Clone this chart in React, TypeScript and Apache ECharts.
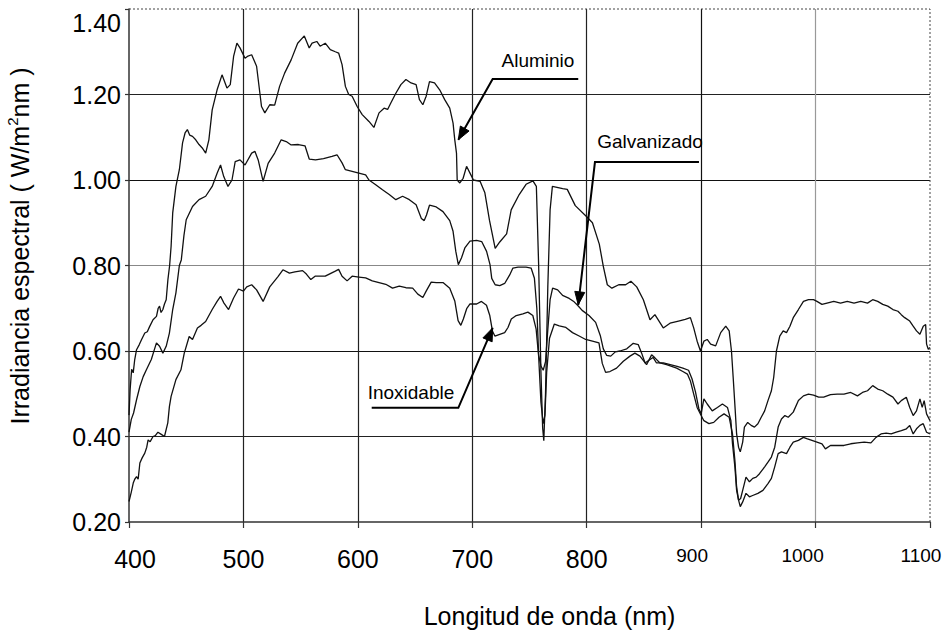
import React, { useEffect, useRef } from "react";
import * as echarts from "echarts";

const X_MIN = 400;
const X_MAX = 1100;
const X_STEP = 100;
const Y_MIN = 0.2;
const Y_MAX = 1.4;
const Y_STEP = 0.2;

const X_TITLE = "Longitud de onda (nm)";
const Y_TITLE_PARTS = ["Irradiancia espectral ( W/m", "2", "nm )"];

// [wavelength nm, irradiance W/m2nm]
const ALUMINIO: [number, number][] = [
  [400, 0.45], [401, 0.51], [402.3, 0.557], [403.7, 0.549], [405, 0.58], [406.6, 0.603], [409, 0.615],
  [411, 0.627], [413.8, 0.642], [416, 0.645], [418, 0.657], [421, 0.673], [424, 0.681], [425.5, 0.7],
  [426.7, 0.705], [428, 0.69], [429.6, 0.697], [431, 0.71], [432.5, 0.72], [434, 0.767], [435.5, 0.8],
  [436.8, 0.845], [438.2, 0.923], [441, 0.985], [444, 1.024], [446.8, 1.087], [449, 1.11], [451, 1.118],
  [453, 1.105], [455.5, 1.102], [458.3, 1.094], [461.2, 1.083], [464, 1.075], [467, 1.063], [469.8, 1.094],
  [472.7, 1.164], [477, 1.211], [481.3, 1.246], [485.6, 1.215], [488.5, 1.223], [491.4, 1.289], [494.3, 1.32],
  [497, 1.309], [501.4, 1.285], [504, 1.29], [507.2, 1.293], [511.5, 1.266], [515.8, 1.172], [518.7, 1.157],
  [523, 1.176], [527.3, 1.175], [531.6, 1.219], [536, 1.25], [541.7, 1.281], [547.4, 1.32], [553.2, 1.337],
  [557.5, 1.309], [560, 1.32], [564.1, 1.324], [567, 1.313], [571.5, 1.32], [575.9, 1.305], [580.3, 1.3],
  [583.2, 1.297], [586.2, 1.27], [589.1, 1.219], [592, 1.2], [595, 1.196], [599.4, 1.172], [603.8, 1.153],
  [609.7, 1.137], [614, 1.123], [618.5, 1.157], [622.9, 1.168], [626, 1.165], [628.8, 1.18], [633.2, 1.203],
  [637.6, 1.223], [642, 1.235], [646.5, 1.227], [650.9, 1.223], [653.8, 1.188], [656.8, 1.176], [659.7, 1.196],
  [662.6, 1.23], [667, 1.227], [671.5, 1.211], [675.9, 1.188], [680.3, 1.168], [683.2, 1.133], [684.7, 1.094],
  [686.2, 1.063], [686.8, 1.0], [689.1, 0.993], [692, 1.004], [695, 1.032], [698, 1.016], [701, 1.0],
  [706.8, 0.997], [711, 0.97], [715, 0.906], [720, 0.84], [724, 0.855], [730, 0.874], [734, 0.93],
  [741, 0.966], [747, 0.99], [753, 0.998], [756, 0.985], [758, 0.8], [760, 0.55], [761.5, 0.42],
  [762.5, 0.39], [764, 0.5], [766, 0.75], [768, 0.93], [770, 0.985], [779, 0.98], [783, 0.978],
  [790, 0.94], [800, 0.914], [805, 0.9], [811, 0.85], [814.5, 0.798], [818, 0.755], [822, 0.747],
  [828, 0.755], [834, 0.755], [838.6, 0.763], [843.7, 0.75], [849.5, 0.72], [855.3, 0.673], [859.6, 0.685],
  [866.9, 0.654], [872.8, 0.665], [880.2, 0.67], [886.1, 0.674], [890.6, 0.678], [893.5, 0.654], [896.5, 0.623],
  [899.4, 0.6], [902.4, 0.623], [905.3, 0.627], [908.3, 0.616], [912.7, 0.612], [917.1, 0.643], [921.5, 0.658],
  [924.5, 0.647], [926.5, 0.6], [928, 0.538], [929.8, 0.46], [931, 0.406], [932.7, 0.375], [934.2, 0.364],
  [936.3, 0.387], [937.8, 0.422], [940.7, 0.433], [943.7, 0.426], [946.6, 0.422], [949.6, 0.43], [952.5, 0.445],
  [955.5, 0.46], [958.4, 0.484], [961.4, 0.507], [963.4, 0.538], [965.8, 0.6], [968.7, 0.635], [971.7, 0.647],
  [974.6, 0.643], [977.6, 0.658], [980.5, 0.678], [985, 0.697], [989.4, 0.716], [993.8, 0.72], [998.2, 0.72],
  [1001.2, 0.716], [1005.6, 0.709], [1010, 0.712], [1015.9, 0.716], [1021.8, 0.712], [1027.7, 0.716],
  [1033.6, 0.712], [1039.5, 0.716], [1045.4, 0.712], [1049.9, 0.72], [1054.3, 0.716], [1058.7, 0.709],
  [1063.1, 0.705], [1067.6, 0.697], [1072, 0.693], [1074.9, 0.685], [1077.9, 0.678], [1082.3, 0.67],
  [1085.3, 0.658], [1088.2, 0.647], [1091.2, 0.639], [1094.1, 0.658], [1096.2, 0.662], [1097, 0.616],
  [1098.5, 0.604], [1100, 0.608],
];

const GALVANIZADO: [number, number][] = [
  [400, 0.41], [402, 0.44], [404, 0.455], [406.6, 0.486], [409.5, 0.517], [412.4, 0.54], [415.2, 0.556],
  [419.5, 0.58], [424, 0.619], [426.7, 0.611], [429.6, 0.595], [432.5, 0.611], [435.3, 0.642], [438.2, 0.697],
  [441, 0.736], [444, 0.8], [445.7, 0.813], [448, 0.87], [450, 0.907], [455.5, 0.938], [461.2, 0.954],
  [467, 0.962], [472.7, 0.985], [477, 1.016], [480, 1.035], [482.8, 1.008], [486.5, 0.985], [490, 1.0],
  [492.8, 1.043], [497, 1.047], [501.4, 1.035], [507.2, 1.063], [510, 1.067], [512.9, 1.047], [517.2, 0.997],
  [521.6, 1.039], [527.3, 1.063], [533, 1.094], [537.4, 1.09], [541.7, 1.082], [548, 1.083], [553.8, 1.08],
  [557.5, 1.049], [563, 1.047], [570, 1.05], [577.4, 1.055], [581.8, 1.059], [586.2, 1.04], [589.1, 1.024],
  [595, 1.02], [600.9, 1.016], [606.8, 1.012], [609.7, 1.0], [615.6, 0.989], [621.5, 0.977], [627.4, 0.966],
  [633.2, 0.954], [639.1, 0.962], [645, 0.954], [650.9, 0.942], [655.5, 0.91], [658, 0.905], [660, 0.918],
  [662.6, 0.941], [668.5, 0.937], [674.4, 0.926], [680.3, 0.905], [683.2, 0.88], [685.6, 0.833], [687.8, 0.802],
  [690.6, 0.818], [693.5, 0.841], [698, 0.857], [703.8, 0.859], [708.2, 0.856], [712.5, 0.833], [715.5, 0.802],
  [717, 0.77], [720, 0.755], [724, 0.753], [728.3, 0.758], [732.7, 0.778], [735.5, 0.794], [740, 0.796],
  [747, 0.796], [751.4, 0.794], [754.3, 0.77], [756.4, 0.7], [758, 0.59], [760, 0.565], [762, 0.555],
  [764, 0.575], [766, 0.65], [768, 0.72], [770.2, 0.747], [774.6, 0.743], [778.9, 0.73], [784.7, 0.723],
  [789, 0.715], [792, 0.707], [796, 0.695], [802, 0.683], [807.8, 0.667], [812, 0.635], [814.5, 0.605],
  [817.4, 0.59], [821, 0.588], [825, 0.598], [829, 0.6], [835, 0.605], [840.7, 0.618], [845, 0.615],
  [848, 0.595], [851, 0.572], [855.3, 0.58], [858, 0.585], [861, 0.572], [867, 0.572], [873, 0.568],
  [879, 0.564], [884, 0.56], [889, 0.555], [892, 0.535], [895, 0.505], [898, 0.465], [900, 0.453],
  [902.4, 0.488], [905.3, 0.476], [909.7, 0.46], [914.2, 0.468], [918.6, 0.476], [923, 0.468], [926, 0.437],
  [927.4, 0.383], [929.5, 0.329], [931, 0.274], [932.7, 0.251], [934.5, 0.255], [936.3, 0.274], [939.2, 0.305],
  [942.2, 0.294], [945.1, 0.302], [948.1, 0.305], [951, 0.313], [955.5, 0.329], [958.4, 0.34], [961.4, 0.352],
  [964.3, 0.375], [967.3, 0.422], [970.2, 0.441], [973.2, 0.449], [976.1, 0.445], [980.5, 0.457], [985, 0.484],
  [989.4, 0.495], [993.8, 0.499], [998.2, 0.497], [1002.7, 0.492], [1007.1, 0.492], [1013, 0.498],
  [1018.9, 0.499], [1024.8, 0.499], [1030.7, 0.503], [1036.6, 0.495], [1041, 0.503], [1045.4, 0.507],
  [1049.9, 0.519], [1054.3, 0.511], [1058.7, 0.507], [1063.1, 0.499], [1067.6, 0.492], [1072, 0.476],
  [1074.9, 0.484], [1079.3, 0.492], [1082.3, 0.468], [1085.3, 0.449], [1088.2, 0.46], [1091.2, 0.488],
  [1093.2, 0.468], [1094.9, 0.484], [1097, 0.453], [1100, 0.437],
];

const INOXIDABLE: [number, number][] = [
  [400, 0.248], [402, 0.27], [403.7, 0.291], [405, 0.3], [406.6, 0.306], [408, 0.3], [409.5, 0.338],
  [411.5, 0.35], [413.8, 0.361], [415.5, 0.375], [416.7, 0.392], [418.5, 0.388], [421, 0.4], [423, 0.402],
  [425.3, 0.41], [428.2, 0.405], [431, 0.4], [433.9, 0.432], [435.3, 0.47], [436.8, 0.494], [441, 0.533],
  [445.4, 0.556], [448.3, 0.595], [452.6, 0.634], [455.5, 0.627], [459.8, 0.654], [463, 0.66], [467, 0.669],
  [472.7, 0.697], [477, 0.716], [480, 0.728], [483, 0.712], [487, 0.697], [491.4, 0.724], [495.7, 0.745],
  [500, 0.74], [502.9, 0.75], [507.2, 0.755], [511.5, 0.743], [517.2, 0.716], [523, 0.75], [530.2, 0.774],
  [534.5, 0.79], [540.2, 0.782], [545, 0.785], [551.7, 0.788], [555, 0.78], [558.9, 0.767], [562.6, 0.775],
  [571.5, 0.775], [580.3, 0.787], [583.2, 0.791], [586.2, 0.775], [590.6, 0.764], [595, 0.775], [600.9, 0.773],
  [606.8, 0.771], [612.6, 0.764], [618.5, 0.76], [624.4, 0.756], [630.3, 0.747], [636.2, 0.752], [642, 0.748],
  [647.9, 0.747], [652.4, 0.733], [656.8, 0.725], [659.7, 0.74], [664.1, 0.761], [668.5, 0.76], [674.4, 0.76],
  [680.3, 0.747], [684.7, 0.717], [687.6, 0.671], [690, 0.66], [692.2, 0.675], [695.1, 0.699], [698, 0.71],
  [703.8, 0.71], [708, 0.716], [712.4, 0.707], [715.3, 0.683], [717.6, 0.647], [719.7, 0.635], [724, 0.639],
  [728.3, 0.643], [731.2, 0.655], [734.1, 0.675], [738.4, 0.683], [744.2, 0.687], [748.6, 0.691], [752.9, 0.683],
  [755.8, 0.651], [758, 0.587], [760, 0.48], [762, 0.43], [763.5, 0.45], [765, 0.55], [767.5, 0.63],
  [771.7, 0.663], [776, 0.659], [781.8, 0.655], [787.6, 0.643], [793.4, 0.635], [799.1, 0.627], [805, 0.623],
  [810.7, 0.619], [813.6, 0.571], [816.5, 0.55], [820.3, 0.552], [826.1, 0.56], [832, 0.576], [837.8, 0.588],
  [842.1, 0.595], [846.5, 0.588], [852.3, 0.568], [856.7, 0.591], [859.6, 0.584], [864, 0.572], [869.8, 0.568],
  [878.6, 0.56], [884, 0.552], [888, 0.546], [890.6, 0.53], [893.5, 0.499], [896.5, 0.468], [900, 0.449],
  [902.4, 0.437], [906.8, 0.43], [911, 0.433], [915.6, 0.445], [920, 0.453], [924.5, 0.445], [927.4, 0.406],
  [929.5, 0.344], [931, 0.282], [932.7, 0.251], [934.2, 0.236], [936.3, 0.247], [939.2, 0.267], [942.2, 0.259],
  [945, 0.262], [949.6, 0.267], [954, 0.274], [958.4, 0.29], [961.4, 0.302], [964.3, 0.329], [967.3, 0.36],
  [970.2, 0.364], [974.6, 0.36], [977.6, 0.375], [980.5, 0.387], [985, 0.391], [989.4, 0.398], [992.3, 0.395],
  [996.8, 0.391], [1001.2, 0.387], [1005.6, 0.383], [1008.6, 0.371], [1013, 0.379], [1018.9, 0.379],
  [1024.8, 0.379], [1030.7, 0.383], [1036.6, 0.385], [1042.5, 0.387], [1048.4, 0.385], [1052.8, 0.398],
  [1057.2, 0.406], [1061.7, 0.408], [1066.1, 0.406], [1070.5, 0.41], [1075, 0.414], [1079.4, 0.418],
  [1082.3, 0.426], [1085.3, 0.406], [1088.2, 0.418], [1091.2, 0.426], [1094.1, 0.43], [1097, 0.41], [1100, 0.406],
];

// Annotation labels with leader lines, all in data coordinates
const ANNOTATION_TEXTS = ["Aluminio", "Galvanizado", "Inoxidable"];
const ANNOTATION_LABEL_AT: [number, number][] = [[757.4, 1.279], [855.3, 1.089], [646.4, 0.502]];
const ANNOTATION_PATHS: [number, number][][] = [
  [[792.6, 1.236], [717.8, 1.236], [687.8, 1.094]],
  [[898.1, 1.042], [807.2, 1.042], [792.6, 0.708]],
  [[612.1, 0.467], [687.8, 0.467], [717.8, 0.654]],
];

const FONT = "Liberation Sans, Arial, sans-serif";

export default function App() {
  const ref = useRef<HTMLDivElement>(null);

  useEffect(() => {
    const chart = echarts.init(ref.current!, null, { renderer: "svg" });

    const mkSeries = (name: string, data: [number, number][]) => ({
      name,
      type: "line",
      data,
      showSymbol: false,
      symbol: "none",
      silent: true,
      lineStyle: { color: "#111", width: 1.3 },
      z: 3,
    });

    chart.setOption({
      animation: false,
      backgroundColor: "#fff",
      grid: { left: 129, right: 19, top: 9, bottom: 112, containLabel: false },
      xAxis: {
        type: "value",
        min: X_MIN,
        max: X_MAX,
        interval: X_STEP,
        axisLine: { show: true, onZero: false, lineStyle: { color: "#333", width: 1.5 } },
        axisTick: { show: true, length: 6, lineStyle: { color: "#333", width: 1.2 } },
        axisLabel: {
          margin: 24,
          color: "#000",
          fontFamily: FONT,
          fontSize: 25,
          formatter: (v: number) => {
            if (v === 400) return `{f|${v}}`;
            if (v === 1000) return `{c|${v}}`;
            if (v >= 900) return `{b|${v}}`;
            return `{a|${v}}`;
          },
          rich: {
            a: { fontSize: 25, fontFamily: FONT, color: "#000" },
            f: { fontSize: 25, fontFamily: FONT, color: "#000", padding: [0, 0, 0, 12] },
            b: { fontSize: 19, fontFamily: FONT, color: "#000", padding: [0, 18, 0, 0] },
            c: { fontSize: 19, fontFamily: FONT, color: "#000", padding: [0, 26, 0, 0] },
          },
        },
        splitLine: {
          show: true,
          lineStyle: {
            width: 1.2,
            color: ["rgba(0,0,0,0)", "#222", "#222", "#222", "#222", "#111", "#999", "rgba(0,0,0,0)"],
          },
        },
      },
      yAxis: {
        type: "value",
        min: Y_MIN,
        max: Y_MAX,
        interval: Y_STEP,
        axisLine: { show: true, onZero: false, lineStyle: { color: "#333", width: 1.5 } },
        axisTick: { show: true, length: 4, lineStyle: { color: "#333", width: 1.2 } },
        axisLabel: {
          margin: 8,
          color: "#000",
          fontFamily: FONT,
          fontSize: 25,
          formatter: (v: number) => (Math.abs(v - Y_MAX) < 1e-6 ? `{t|${v.toFixed(2)}}` : `{n|${v.toFixed(2)}}`),
          rich: {
            n: { fontSize: 25, fontFamily: FONT, color: "#000" },
            t: { fontSize: 25, fontFamily: FONT, color: "#000", padding: [28, 0, 0, 0] },
          },
        },
        splitLine: {
          show: true,
          lineStyle: {
            width: 1.2,
            color: ["rgba(0,0,0,0)", "#222", "#111", "#888", "#111", "#222", "rgba(0,0,0,0)"],
          },
        },
      },
      series: [
        mkSeries("Aluminio", ALUMINIO),
        mkSeries("Galvanizado", GALVANIZADO),
        mkSeries("Inoxidable", INOXIDABLE),
      ],
    });

    const P = (p: [number, number]) => chart.convertToPixel({ gridIndex: 0 }, p) as number[];
    const graphics: any[] = [];

    // dotted frame (top and right)
    const tl = P([X_MIN, Y_MAX]);
    const tr = P([X_MAX, Y_MAX]);
    const br = P([X_MAX, Y_MIN]);
    graphics.push({
      type: "polyline",
      shape: { points: [tl, tr, br] },
      style: { stroke: "#444", lineWidth: 1, lineDash: [2, 2], fill: null },
      z: 10,
    });

    ANNOTATION_PATHS.forEach((path, i) => {
      const pts = path.map(P);
      graphics.push({
        type: "polyline",
        shape: { points: pts },
        style: { stroke: "#000", lineWidth: 2, fill: null },
        z: 20,
      });
      const T = pts[pts.length - 1];
      const Q = pts[pts.length - 2];
      const dx = T[0] - Q[0];
      const dy = T[1] - Q[1];
      const len = Math.hypot(dx, dy);
      const ux = dx / len;
      const uy = dy / len;
      const bx = T[0] - ux * 13;
      const by = T[1] - uy * 13;
      const nx = -uy * 5;
      const ny = ux * 5;
      graphics.push({
        type: "polygon",
        shape: { points: [T, [bx + nx, by + ny], [bx - nx, by - ny]] },
        style: { fill: "#000", stroke: "#000", lineWidth: 1 },
        z: 21,
      });
      const lp = P(ANNOTATION_LABEL_AT[i]);
      graphics.push({
        type: "text",
        x: lp[0],
        y: lp[1],
        z: 22,
        style: {
          text: ANNOTATION_TEXTS[i],
          fontSize: 19,
          fontFamily: FONT,
          fill: "#000",
          align: "center",
          verticalAlign: "middle",
        },
      });
    });

    // axis titles
    const gx0 = P([X_MIN, Y_MIN]);
    const gx1 = P([X_MAX, Y_MIN]);
    graphics.push({
      type: "text",
      x: (gx0[0] + gx1[0]) / 2 + 20,
      y: gx0[1] + 94,
      style: {
        text: X_TITLE,
        fontSize: 25,
        fontFamily: FONT,
        fill: "#000",
        align: "center",
        verticalAlign: "middle",
      },
    });
    graphics.push({
      type: "text",
      x: 20,
      y: 246,
      rotation: Math.PI / 2,
      style: {
        text: `{m|${Y_TITLE_PARTS[0]}}{s|${Y_TITLE_PARTS[1]}}{m|${Y_TITLE_PARTS[2]}}`,
        fontSize: 25,
        fontFamily: FONT,
        fill: "#000",
        align: "center",
        verticalAlign: "middle",
        rich: {
          m: { fontSize: 25, fontFamily: FONT, fill: "#000", color: "#000", lineHeight: 30 },
          s: { fontSize: 15, fontFamily: FONT, fill: "#000", color: "#000", verticalAlign: "top", lineHeight: 30 },
        },
      },
    });

    chart.setOption({ graphic: graphics });

    return () => chart.dispose();
  }, []);

  return (
    <div
      ref={ref}
      style={{ position: "fixed", left: 0, top: 0, width: 949, height: 634, background: "#fff" }}
    />
  );
}
